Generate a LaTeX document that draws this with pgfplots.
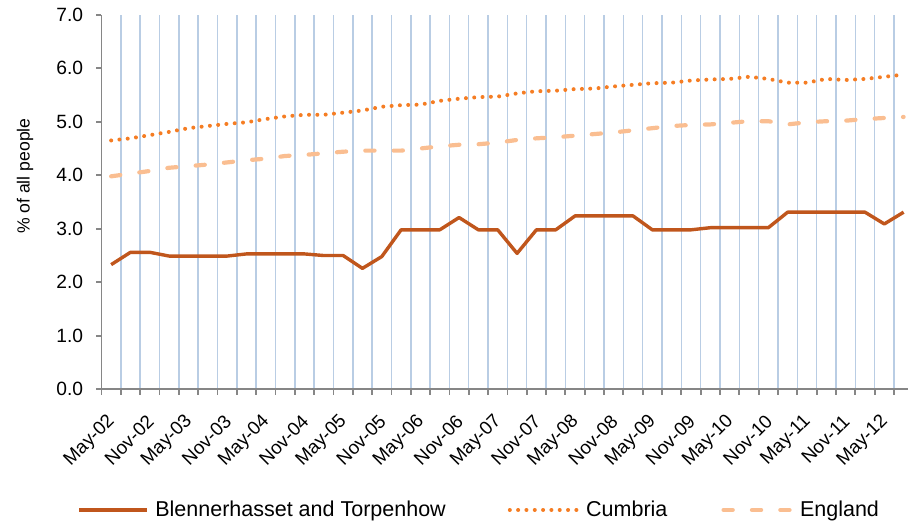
\documentclass[border=0pt]{standalone}
\usepackage{fontspec}
\setmainfont{Liberation Sans}
\usepackage{pgfplots}
\usepackage{pgfplotstable}
\pgfplotsset{compat=1.18}

\definecolor{blen}{RGB}{192,86,28}
\definecolor{cumb}{RGB}{245,125,35}
\definecolor{eng}{RGB}{250,190,145}
\definecolor{gridblue}{RGB}{185,205,228}
\definecolor{axisgray}{RGB}{134,134,134}

% quarter index (0 = May-02), Blennerhasset and Torpenhow, Cumbria, England
\pgfplotstableread{
q  b    c    e
0  2.33 4.65 3.98
1  2.56 4.69 4.03
2  2.56 4.75 4.08
3  2.49 4.81 4.14
4  2.49 4.88 4.17
5  2.49 4.92 4.20
6  2.49 4.96 4.24
7  2.53 4.99 4.28
8  2.53 5.05 4.31
9  2.53 5.10 4.36
10 2.53 5.13 4.38
11 2.50 5.13 4.41
12 2.50 5.17 4.44
13 2.26 5.21 4.46
14 2.48 5.28 4.46
15 2.98 5.31 4.46
16 2.98 5.32 4.50
17 2.98 5.39 4.54
18 3.21 5.43 4.57
19 2.98 5.46 4.58
20 2.98 5.47 4.61
21 2.54 5.53 4.66
22 2.98 5.57 4.69
23 2.98 5.58 4.71
24 3.24 5.61 4.74
25 3.24 5.62 4.77
26 3.24 5.66 4.80
27 3.24 5.69 4.84
28 2.98 5.72 4.88
29 2.98 5.73 4.92
30 2.98 5.77 4.94
31 3.02 5.79 4.95
32 3.02 5.80 4.98
33 3.02 5.84 5.01
34 3.02 5.80 5.01
35 3.31 5.73 4.95
36 3.31 5.73 4.99
37 3.31 5.80 5.01
38 3.31 5.78 5.02
39 3.31 5.80 5.05
40 3.09 5.84 5.07
41 3.31 5.88 5.09
}\data

\begin{document}
\begin{tikzpicture}
\begin{axis}[
    scale only axis,
    width=405.9pt, height=187.3pt,
    xmin=-0.5, xmax=41.5, ymin=0, ymax=7,
    axis x line*=bottom, axis y line*=left,
    axis line style={axisgray, line width=0.9pt},
    tick align=outside, major tick length=2.7pt,
    tick style={draw=axisgray, line width=0.9pt},
    xtick={-0.5,0.5,...,41.5}, xticklabel=\empty,
    xmajorgrids, grid style={gridblue, line width=0.75pt},
    extra x ticks={0,2,...,40},
    extra x tick labels={May-02,Nov-02,May-03,Nov-03,May-04,Nov-04,May-05,Nov-05,May-06,Nov-06,May-07,Nov-07,May-08,Nov-08,May-09,Nov-09,May-10,Nov-10,May-11,Nov-11,May-12},
    extra x tick style={grid=none, major tick length=0pt,
        xticklabel style={xshift=0.5pt, yshift=-14.5pt, rotate=45, anchor=east, inner sep=0pt,
            font=\fontsize{9.4}{11}\selectfont}},
    ytick={0,1,...,7},
    yticklabel style={font=\fontsize{9.6}{11}\selectfont, xshift=-3pt},
    /pgf/number format/fixed,
    /pgf/number format/fixed zerofill,
    /pgf/number format/precision=1,
    /pgf/number format/assume math mode=true,
    ylabel={\% of all people},
    ylabel style={at={(axis description cs:-0.0942,0.569)}, anchor=center, font=\fontsize{8.8}{10}\selectfont},
    legend columns=3,
    legend style={at={(axis description cs:-0.030,-0.322)}, anchor=west, draw=none, fill=none, inner sep=0pt,
        font=\fontsize{10.75}{12}\selectfont,
        /tikz/every even column/.append style={column sep=25pt}},
    legend image code/.code={\draw[#1] (0pt,0pt) -- (34pt,0pt); \path (35.2pt,0pt);},
]
\addplot[blen, line width=1.7pt, line join=round] table[x=q, y=b] {\data};
\addlegendentry{Blennerhasset and Torpenhow\hspace*{4pt}}
\addplot[cumb, line width=2pt, line cap=round, dash pattern=on 0.01pt off 4.15pt] table[x=q, y=c] {\data};
\addlegendentry{Cumbria}
\addplot[eng, line width=2.1pt, line cap=round, dash pattern=on 4.6pt off 9.6pt] table[x=q, y=e] {\data};
\addlegendentry{England}
\end{axis}
\pgfresetboundingbox
\useasboundingbox (-50.75pt,-68.35pt) rectangle (403.25pt,194.65pt);
\end{tikzpicture}
\end{document}
